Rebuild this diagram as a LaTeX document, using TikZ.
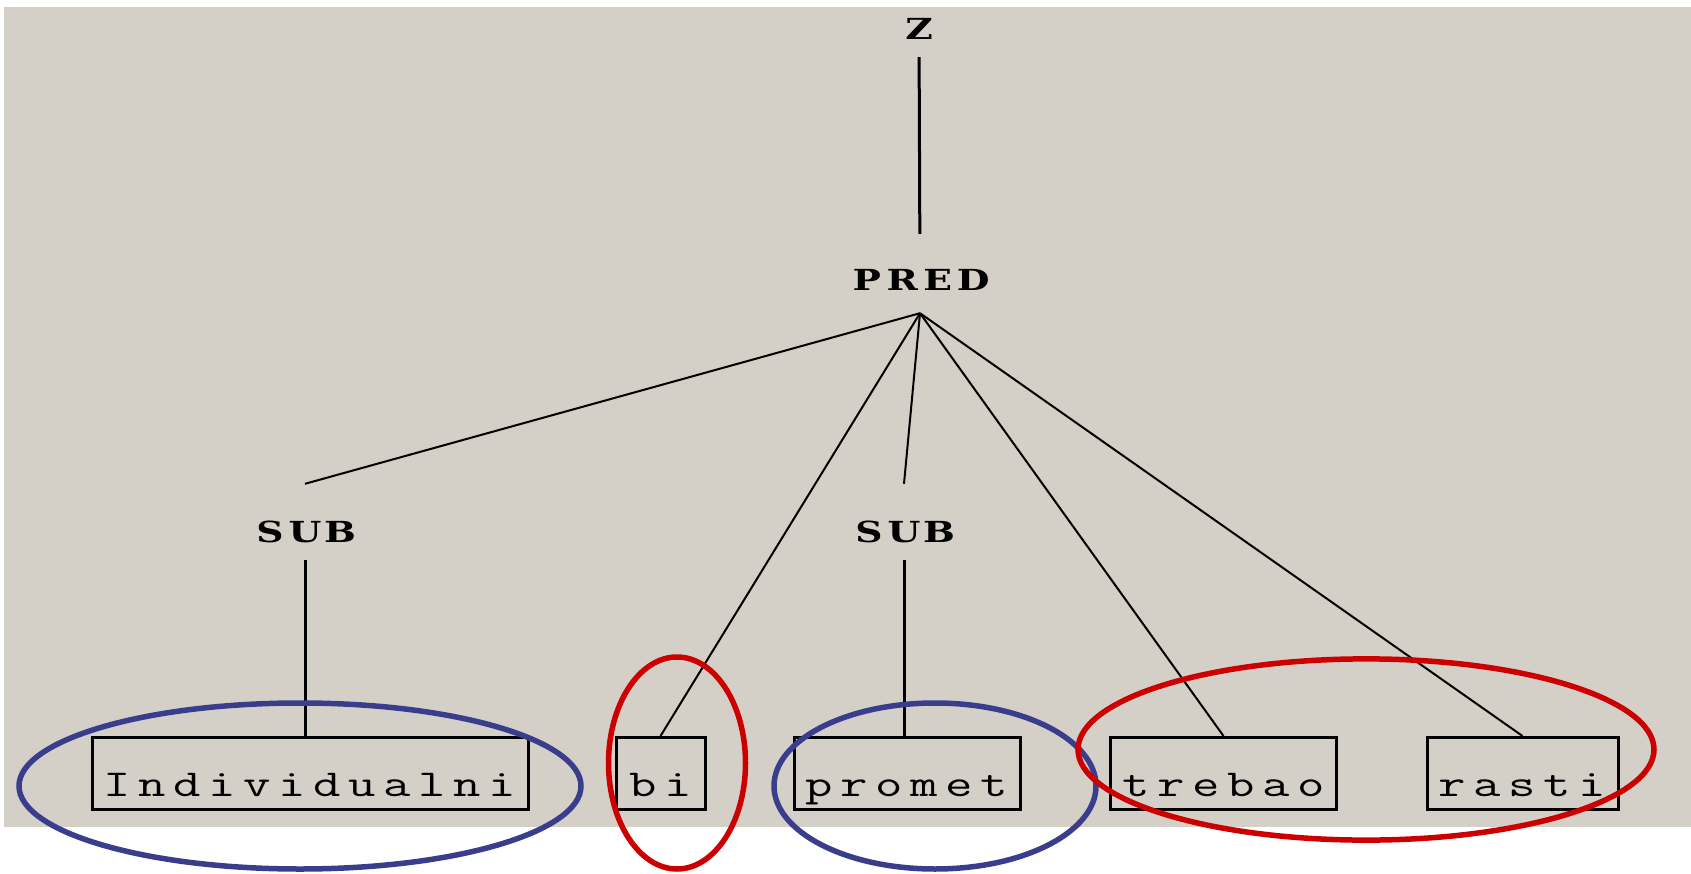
\documentclass[tikz,border=0pt]{standalone}
\usepackage{fontspec}
\setmainfont{Liberation Serif}
\newfontfamily\tagfont{DejaVu Serif}
\usepackage{xcolor}

\definecolor{panelgray}{HTML}{D4D0C8}
\definecolor{ringblue}{RGB}{58,61,140}
\definecolor{ringred}{RGB}{204,0,0}

% each letter in a cell of fixed pitch, stretched sideways
\newcommand\spaced[3]{\def\spacedpitch{#1}\def\spacedstretch{#2}\spacedaux#3\relax}
\def\spacedaux#1{\ifx#1\relax\else\makebox[\spacedpitch]{\scalebox{\spacedstretch}[1]{#1}}\expandafter\spacedaux\fi}

\begin{document}
\begin{tikzpicture}[x=1pt, y=-1pt,
  tag/.style={inner sep=0pt, text height=22pt, text depth=0pt, font=\tagfont\fontsize{29}{29}\selectfont\bfseries},
  word/.style={draw, line width=3pt, inner xsep=8pt, inner ysep=0pt, text height=59pt, text depth=13pt, font=\fontsize{38}{38}\selectfont\ttfamily},
  ring/.style={line width=5.5pt}]
  \useasboundingbox (0,0) rectangle (1691,874);
  \fill[panelgray] (4,7) rectangle (1691,827);

  \node[tag] (z) at (919,29) {\spaced{30pt}{1.3}{Z}};
  \node[tag] (pred) at (920,280) {\spaced{35.5pt}{1.3}{PRED}};
  \node[tag] (sub1) at (305,531) {\spaced{35pt}{1.3}{SUB}};
  \node[tag] (sub2) at (904,531) {\spaced{35pt}{1.3}{SUB}};
  \coordinate (fork) at ([yshift=-22pt]pred.south);

  \node[word] (indiv) at (310,773.5) {\spaced{35pt}{1.4}{Individualni}};
  \node[word, minimum width=89pt] (bi) at (660.5,773.5) {\spaced{35pt}{1.4}{bi}};
  \node[word] (promet) at (907,773.5) {\spaced{35pt}{1.4}{promet}};
  \node[word] (trebao) at (1223.5,773.5) {\spaced{35pt}{1.4}{trebao}};
  \node[word] (rasti) at (1522.5,773.5) {\spaced{35pt}{1.4}{rasti}};

  \draw[line width=3pt, shorten <=17pt, shorten >=35pt] (z) -- (pred);
  \draw[line width=2pt] (fork) -- ([yshift=36pt]sub1.north);
  \draw[line width=2pt] (fork) -- ([yshift=36pt]sub2.north);
  \draw[line width=2pt] (fork) -- (bi.north);
  \draw[line width=2pt] (fork) -- (trebao.north);
  \draw[line width=2pt] (fork) -- (rasti.north);
  \draw[line width=3pt, shorten <=18pt] (sub1.south) -- (sub1.south |- indiv.north);
  \draw[line width=3pt, shorten <=18pt] (sub2.south) -- (sub2.south |- promet.north);

  % rings
  \draw[ring, ringblue] (300,786) ellipse [x radius=281pt, y radius=83pt];
  \draw[ring, ringred] (677,763) ellipse [x radius=68.5pt, y radius=106pt];
  \draw[ring, ringblue] (935,786) ellipse [x radius=161pt, y radius=83pt];
  \draw[ring, ringred] (1366,749.5) ellipse [x radius=288pt, y radius=90.6pt];
\end{tikzpicture}
\end{document}
